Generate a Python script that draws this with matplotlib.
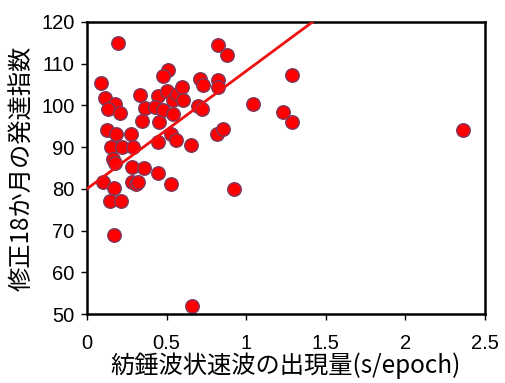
import numpy as np
import matplotlib.pyplot as plt

plt.rcParams['font.family'] = ['Liberation Sans', 'Noto Sans CJK JP', 'DejaVu Sans']

# spindle-like fast wave amount (s/epoch) vs corrected 18-month developmental index
x_vals = [0.086, 0.197, 0.113, 0.176, 0.134, 0.21, 0.333, 0.448, 0.505, 0.51,
          0.48, 0.54, 0.565, 0.595, 0.605, 0.364, 0.425, 0.48, 0.54, 0.825,
          0.877, 0.71, 0.726, 0.825, 0.825, 0.70, 0.72, 1.045, 1.233, 1.286,
          1.286, 2.364, 0.124, 0.18, 0.276, 0.348, 0.452, 0.528, 0.557, 0.655,
          0.815, 0.856, 0.149, 0.218, 0.289, 0.443, 0.165, 0.176, 0.285, 0.36,
          0.443, 0.10, 0.172, 0.28, 0.31, 0.32, 0.525, 0.925, 0.144, 0.214,
          0.17, 0.657]
y_vals = [105.3, 115.0, 101.7, 100.3, 99.1, 98.2, 102.5, 102.2, 103.4, 108.5,
          107.0, 101.3, 102.8, 104.5, 101.3, 99.3, 99.7, 98.9, 98.0, 114.5,
          112.1, 106.3, 104.9, 106.1, 104.5, 99.9, 99.2, 100.4, 98.3, 107.2,
          96.0, 94.1, 94.2, 93.1, 93.1, 96.3, 95.9, 93.1, 91.7, 90.6,
          93.1, 94.3, 90.0, 90.0, 90.0, 91.1, 87.1, 86.2, 85.3, 85.0,
          83.8, 81.7, 80.1, 81.7, 81.2, 81.7, 81.1, 79.9, 77.2, 77.0,
          68.9, 51.9]

# regression line
line_intercept = 80.0
line_slope = 28.2

x_ticks = [0, 0.5, 1, 1.5, 2, 2.5]
x_ticklabels = ['0', '0.5', '1', '1.5', '2', '2.5']
y_ticks = [50, 60, 70, 80, 90, 100, 110, 120]

fig = plt.figure(figsize=(5.06, 3.83), dpi=100)
ax = fig.add_axes([0.172, 0.180, 0.786, 0.763])

lx = np.array([0, 2.5])
ax.plot(lx, line_intercept + line_slope * lx, color='#ee1111', lw=2, zorder=3)
ax.scatter(x_vals, y_vals, s=95, color='#ff0000', edgecolors='#7a3a5e',
           linewidths=1, zorder=2)

ax.set_xlim(0, 2.5)
ax.set_ylim(50, 120)
ax.set_xticks(x_ticks)
ax.set_xticklabels(x_ticklabels)
ax.set_yticks(y_ticks)
ax.tick_params(labelsize=14.5, length=4, width=1, direction='out', pad=5)
ax.tick_params(axis='x', pad=10)
for sp in ax.spines.values():
    sp.set_linewidth(1.8)

ax.set_xlabel('紡錘波状速波の出現量(s/epoch)', fontsize=17.5,
              family=['Noto Sans CJK JP', 'Liberation Sans'], labelpad=0)
ax.set_ylabel('修正18か月の発達指数', fontsize=17.5,
              family=['Noto Sans CJK JP', 'Liberation Sans'], labelpad=4)

fig.savefig('out.png', dpi=100)
